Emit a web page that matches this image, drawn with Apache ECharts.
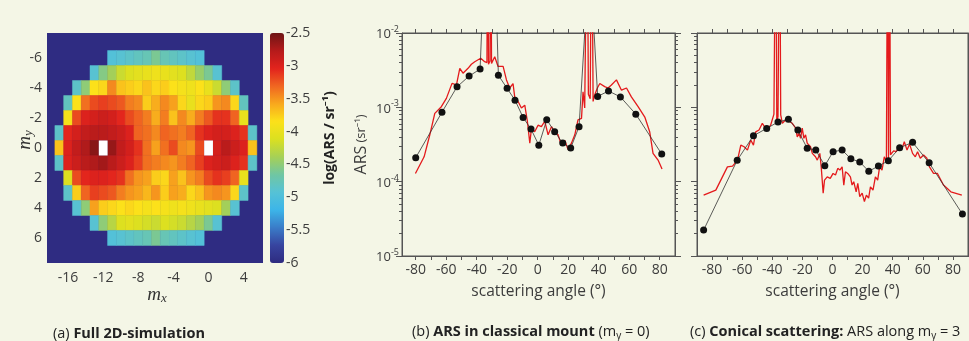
<!DOCTYPE html>
<html>
<head>
<meta charset="utf-8">
<script src="https://cdn.jsdelivr.net/npm/echarts@6/dist/echarts.min.js"></script>
<style>
html, body { margin: 0; padding: 0; background: #f4f6e6; }
#chart { width: 969px; height: 341px; }
</style>
</head>
<body>
<div id="chart"></div>
<script>
// (a) full 2D simulation: one row per m_y, first m_x of the row, log10(ARS) per cell
var myRows = [-6, -5, -4, -3, -2, -1, 0, 1, 2, 3, 4, 5, 6];
var mxStart = [-11, -13, -15, -16, -16, -17, -17, -17, -16, -16, -15, -13, -11];
var logArs = [
    [-4.95, -4.9, -4.85, -4.8, -4.75, -4.6, -4.75, -4.8, -4.85, -4.9, -4.95],
    [-4.9, -4.55, -4.4, -4.2, -4.1, -4.05, -4.0, -3.95, -4.0, -4.05, -4.1, -4.25, -4.45, -4.6, -4.9],
    [-4.85, -4.5, -3.85, -3.8, -3.45, -3.7, -3.75, -3.8, -3.7, -3.8, -3.75, -3.85, -3.9, -3.95, -3.85, -4.0, -4.2, -4.5, -4.85],
    [-4.8, -3.85, -3.35, -3.2, -3.15, -3.2, -3.25, -3.4, -3.45, -3.75, -3.6, -3.45, -3.55, -3.8, -4.0, -3.8, -3.75, -3.5, -3.45, -3.8, -4.8],
    [-3.9, -3.2, -3.0, -2.95, -2.9, -2.95, -3.05, -3.2, -3.3, -3.4, -3.6, -3.4, -3.7, -3.45, -3.6, -3.4, -3.25, -3.1, -3.1, -3.3, -4.0],
    [-4.85, -3.05, -2.95, -2.85, -2.8, -2.8, -2.85, -2.9, -3.0, -3.3, -3.35, -3.45, -3.3, -3.35, -3.4, -3.3, -3.1, -3.0, -2.95, -2.95, -3.0, -3.1, -4.85],
    [-3.7, -3.0, -2.85, -2.75, -2.6, null, -2.65, -2.85, -2.95, -3.1, -3.35, -3.55, -3.35, -3.2, -3.45, -3.5, -3.2, null, -2.95, -2.8, -2.9, -3.0, -3.7],
    [-4.85, -3.0, -2.9, -2.8, -2.75, -2.7, -2.8, -2.9, -3.0, -3.15, -3.35, -3.4, -3.45, -3.5, -3.4, -3.3, -3.15, -3.0, -2.95, -2.9, -3.0, -3.1, -4.85],
    [-4.1, -3.2, -3.05, -3.0, -3.0, -3.05, -3.1, -3.35, -3.5, -3.55, -3.75, -3.8, -3.55, -3.7, -3.5, -3.4, -3.2, -3.1, -3.15, -3.3, -4.0],
    [-4.85, -3.75, -3.3, -3.15, -3.2, -3.25, -3.4, -3.5, -3.55, -3.65, -3.5, -3.75, -3.55, -3.6, -3.8, -3.7, -3.5, -3.45, -3.5, -3.8, -4.85],
    [-4.9, -4.5, -3.55, -3.75, -3.8, -3.85, -3.8, -3.85, -3.9, -3.85, -3.9, -3.95, -3.9, -3.95, -4.0, -4.05, -4.1, -4.4, -4.9],
    [-4.9, -4.5, -4.3, -4.1, -4.05, -4.1, -4.15, -4.2, -4.1, -4.15, -4.2, -4.3, -4.4, -4.6, -4.9],
    [-4.95, -4.9, -4.85, -4.8, -4.75, -4.6, -4.75, -4.8, -4.85, -4.9, -4.95]
];
// specular orders left white in the map
var whiteCells = [[-12, 0], [0, 0]];
var mxLabels = [-16, -12, -8, -4, 0, 4];
var myLabels = [-6, -4, -2, 0, 2, 4, 6];

// (b) classical mount, m_y = 0
var bDotAngle = [-80, -62.8, -52.9, -45.0, -37.8, -31, -25.8, -20.1, -14.9, -9.6, -4.4, 0.7, 5.9, 11.1, 16.4, 21.6, 27.1, 34.0, 39.3, 46.4, 54.2, 64.3, 81.3];
var bDotArs = [2.1e-4, 8.6e-4, 1.89e-3, 2.63e-3, 3.27e-3, 10, 2.7e-3, 1.8e-3, 1.25e-3, 7.3e-4, 5.1e-4, 3.1e-4, 6.8e-4, 4.7e-4, 3.3e-4, 2.83e-4, 5.5e-4, 0.12, 1.4e-3, 1.66e-3, 1.38e-3, 8.1e-4, 2.35e-4];
var bLineAngle = [-80.2, -74.5, -70.8, -67.5, -63.2, -59.9, -56.2, -53.3, -51.1, -49, -45.7, -43.5, -41.3, -37.4, -34.8,
    -33.3, -32.8, -32.3, -31.3, -30.8, -30.3, -29.3, -28.2, -26, -22.7, -20.5, -18.4, -16.2, -15.1, -12.9, -10.7, -8.5,
    -6.8, -5.2, -4.1, -2, 0.2, 2.4, 4.6, 6.8, 9, 11.1, 13.3, 15.5, 17.7, 19.9, 22.1, 24.3, 26.4, 28.7, 29.7, 30.8,
    32.4, 33.2, 34.4, 35.4, 36.3, 37.4, 39.1, 40.7, 43.9, 46.1, 48.3, 51.6, 54.9, 58.2, 61.4, 65.8, 70.2, 73.4, 75.6, 78.9, 81.5];
var bLineArs = [1.29e-4, 2.16e-4, 4.24e-4, 8.3e-4, 1.02e-3, 1.32e-3, 2.1e-3, 2.0e-3, 3.35e-3, 2.88e-3, 3.35e-3, 3.8e-3, 4.11e-3, 4.57e-3, 4.11e-3,
    4.0e-3, 1, 3.8e-3, 4.2e-3, 1, 3.9e-3, 4.11e-3, 4.79e-3, 3.55e-3, 3.55e-3, 2.34e-3, 1.82e-3, 2.09e-3, 1.38e-3, 1.2e-3, 9.8e-4, 1.07e-3,
    6.5e-4, 3.3e-4, 5.2e-4, 4.7e-4, 5.75e-4, 5.5e-4, 6.5e-4, 4.27e-4, 5.5e-4, 4.7e-4, 4.27e-4, 3.1e-4, 3.6e-4, 2.7e-4, 3.3e-4, 4.27e-4, 6.8e-4, 7.1e-4, 1.62e-3, 9.8e-4,
    1, 1.5e-3, 1.3e-3, 1, 1.2e-3, 1.48e-3, 1.82e-3, 2.09e-3, 1.9e-3, 1.82e-3, 2.0e-3, 2.34e-3, 1.7e-3, 1.82e-3, 1.38e-3, 1.02e-3, 7.4e-4, 4.7e-4, 2.4e-4, 1.95e-4, 1.48e-4];

// (c) conical scattering, m_y = 3
var cDotAngle = [-85.6, -63.3, -52.5, -43.7, -36.2, -29.3, -23, -16.8, -11.1, -5.1, 0.4, 6.4, 12.2, 18.1, 24.1, 30.5, 37.1, 44.6, 53.2, 64.2, 86.3];
var cDotArs = [2.23e-5, 1.94e-4, 4.15e-4, 5.21e-4, 6.34e-4, 6.89e-4, 4.94e-4, 2.81e-4, 2.66e-4, 1.64e-4, 2.53e-4, 2.66e-4, 2.03e-4, 1.84e-4, 1.38e-4, 1.62e-4, 1.91e-4, 2.86e-4, 3.38e-4, 1.79e-4, 3.66e-5];
var cLineAngle = [-85.6, -77.5, -69.8, -66.4, -63.1, -60.9, -58.7, -56.5, -54.3, -52.5, -51, -48.8, -46.6, -43.7, -41.1, -38.9,
    -37.7, -37.0, -36.2, -35.1, -34.4, -33.3, -31.1, -28.9, -26.7, -24.5, -23.4, -22.3, -21.2, -20.1, -19, -17.9, -16.8, -14.6,
    -13.4, -11.3, -10.1, -8.4, -7.5, -6.2, -5.3, -3.5, -1.5, 0.4, 2, 3.5, 4.9, 6.4, 7.5, 8.6, 10.1, 11.9, 13, 14.1, 15.7, 16.8,
    18.1, 19.7, 21.2, 22.5, 24, 25.2, 26.9, 28.5, 30, 31.3, 32.9, 34.4, 35.8, 36.6, 37.2, 37.9, 38.5, 39.1, 40.6, 42.4, 43.9,
    46.2, 47.7, 49.5, 51.2, 53.2, 55, 56.5, 58.3, 60.5, 62.7, 64.4, 67.1, 69.7, 73.7, 78.6, 85.9];
var cLineArs = [6.6e-5, 7.7e-5, 1.58e-4, 1.62e-4, 1.95e-4, 3.1e-4, 2.95e-4, 2.66e-4, 3.63e-4, 3.1e-4, 4.68e-4, 4.95e-4, 6.1e-4, 4.95e-4, 5.75e-4, 8.1e-4,
    1, 6.5e-4, 7.5e-4, 1, 7.9e-4, 6.1e-4, 6.8e-4, 6.5e-4, 6.1e-4, 5.25e-4, 4.0e-4, 4.47e-4, 3.83e-4, 5.25e-4, 3.83e-4, 4.27e-4, 3.3e-4, 2.95e-4,
    2.4e-4, 2.16e-4, 1.95e-4, 2.4e-4, 1.58e-4, 7.0e-5, 1.05e-4, 1.16e-4, 1.11e-4, 1.29e-4, 1.23e-4, 1.51e-4, 1.43e-4, 1.58e-4, 9.0e-5, 1.36e-4, 1.29e-4, 1.16e-4, 9.0e-5, 1.0e-4, 7.3e-5, 9.5e-5,
    6.3e-5, 7.0e-5, 5.4e-5, 6.6e-5, 6.0e-5, 8.5e-5, 7.7e-5, 1.16e-4, 1.05e-4, 1.58e-4, 1.43e-4, 2.16e-4, 1.85e-4, 1, 2.0e-4, 1, 2.3e-4, 2.4e-4, 2.6e-4, 2.53e-4, 2.95e-4,
    2.8e-4, 3.44e-4, 2.66e-4, 3.2e-4, 2.4e-4, 2.16e-4, 2.53e-4, 2.06e-4, 2.28e-4, 2.06e-4, 1.58e-4, 1.29e-4, 1.29e-4, 9.0e-5, 7.3e-5, 6.6e-5];

var degTicks = [-80, -70, -60, -50, -40, -30, -20, -10, 0, 10, 20, 30, 40, 50, 60, 70, 80];
var degLabels = [-80, -60, -40, -20, 0, 20, 40, 60, 80];

var fontName = '"Open Sans", "Noto Sans", sans-serif';
var ink = '#3c3c3c';
var frame = '#555';

// minor log ticks (2..9 per decade), in log10 units
var minorLog = [];
for (var d = -5; d < -2; d++) {
    for (var k = 2; k < 10; k++) minorLog.push(d + Math.log10(k));
}

var heatData = [];
myRows.forEach(function (my, r) {
    logArs[r].forEach(function (v, i) {
        if (v !== null) heatData.push([mxStart[r] + i, my, v]);
    });
});

function pairs(xs, ys) {
    return xs.map(function (x, i) { return [x, ys[i]]; });
}

function cellRect(api) {
    var a = api.coord([api.value(0) - 0.5, api.value(1) - 0.5]);
    var b = api.coord([api.value(0) + 0.5, api.value(1) + 0.5]);
    return {
        x: Math.min(a[0], b[0]), y: Math.min(a[1], b[1]),
        width: Math.abs(b[0] - a[0]), height: Math.abs(b[1] - a[1])
    };
}

function tickStyle(len) {
    return { show: true, length: len, lineStyle: { color: frame, width: 1 } };
}

// bottom + mirrored top axis of a line panel
function frameX(gi, min, max) {
    return [{
        gridIndex: gi, type: 'value', min: min, max: max,
        axisLine: { show: true, onZero: false, lineStyle: { color: frame } },
        axisTick: Object.assign(tickStyle(4), { customValues: degTicks }),
        axisLabel: { customValues: degLabels, color: ink, fontSize: 14, fontFamily: fontName, margin: 7 },
        splitLine: { show: false },
        name: 'scattering angle (°)', nameLocation: 'middle', nameGap: 28,
        nameTextStyle: { color: ink, fontSize: 15.5, fontFamily: fontName }
    }, {
        gridIndex: gi, type: 'value', min: min, max: max, position: 'top',
        axisLine: { show: true, onZero: false, lineStyle: { color: frame } },
        axisTick: Object.assign(tickStyle(4), { customValues: degTicks }),
        axisLabel: { show: false }, splitLine: { show: false }
    }];
}

// log axis left + right, each with a minor tick companion
function frameY(gi, withLabels) {
    var axes = [];
    ['left', 'right'].forEach(function (pos) {
        var main = {
            gridIndex: gi, type: 'log', logBase: 10, min: 1e-5, max: 1e-2, position: pos,
            axisLine: { show: true, onZero: false, lineStyle: { color: frame } },
            axisTick: tickStyle(6),
            axisLabel: { show: false },
            splitLine: { show: false }
        };
        if (withLabels && pos === 'left') {
            main.axisLabel = {
                show: true, margin: 3,
                formatter: function (v) { return '{b|10}{s|' + Math.round(Math.log10(v)) + '}'; },
                rich: {
                    b: { fontSize: 13, color: ink, fontFamily: fontName, lineHeight: 16, verticalAlign: 'bottom' },
                    s: { fontSize: 9, color: ink, fontFamily: fontName, lineHeight: 8, verticalAlign: 'top' }
                }
            };
            main.name = '{a|ARS} {c|(sr⁻¹)}';
            main.nameLocation = 'middle';
            main.nameGap = 33;
            main.nameTextStyle = {
                rich: {
                    a: { fontSize: 16, color: ink, fontFamily: fontName },
                    c: { fontSize: 13, color: ink, fontFamily: fontName }
                }
            };
        }
        axes.push(main);
        axes.push({
            gridIndex: gi, type: 'value', min: -5, max: -2, position: pos,
            axisLine: { show: false, onZero: false },
            axisTick: Object.assign(tickStyle(3), { customValues: minorLog }),
            axisLabel: { show: false }, splitLine: { show: false }
        });
    });
    return axes;
}

function bigDot(v) { return v[1] > 1e-2 ? 0 : 7; }

var capRich = {
    n: { fontFamily: fontName, fontSize: 14.5, fill: '#222', lineHeight: 18 },
    b: { fontFamily: fontName, fontSize: 14.5, fontWeight: 'bold', fill: '#222', lineHeight: 18 },
    sub: { fontFamily: fontName, fontSize: 10, fill: '#222', lineHeight: 9, verticalAlign: 'bottom' }
};
var mathRich = {
    m: { fontFamily: '"Liberation Serif", serif', fontStyle: 'italic', fontSize: 19, lineHeight: 20, fill: '#333' },
    s: { fontFamily: '"Liberation Serif", serif', fontStyle: 'italic', fontSize: 13, lineHeight: 10, verticalAlign: 'bottom', fill: '#333' }
};

var chart = echarts.init(document.getElementById('chart'));

var option = {
    animation: false,
    backgroundColor: '#f4f6e6',
    textStyle: { fontFamily: fontName },
    grid: [
        { left: 47, top: 33, width: 216, height: 230, show: true, backgroundColor: '#2f2c82', borderWidth: 0, outerBoundsMode: 'none' },
        { left: 270, top: 33, width: 14, height: 230, show: false, outerBoundsMode: 'none' },
        { left: 402, top: 33, width: 273, height: 223, show: true, backgroundColor: 'transparent', borderColor: frame, borderWidth: 1, outerBoundsMode: 'none' },
        { left: 697, top: 33, width: 271, height: 223, show: true, backgroundColor: 'transparent', borderColor: frame, borderWidth: 1, outerBoundsMode: 'none' }
    ],
    xAxis: [
        {
            gridIndex: 0, type: 'value', min: -18.4, max: 6.2,
            axisLine: { show: false }, axisTick: { show: false }, splitLine: { show: false },
            axisLabel: { customValues: mxLabels, color: ink, fontSize: 14, fontFamily: fontName, margin: 8 }
        },
        { gridIndex: 1, type: 'value', show: false }
    ].concat(frameX(2, -89, 90), frameX(3, -90, 90)),
    yAxis: [
        {
            gridIndex: 0, type: 'value', min: -7.67, max: 7.67, inverse: true,
            axisLine: { show: false }, axisTick: { show: false }, splitLine: { show: false },
            axisLabel: { customValues: myLabels, color: ink, fontSize: 14, fontFamily: fontName, margin: 5 }
        },
        {
            gridIndex: 1, type: 'value', min: -6, max: -2.5, interval: 0.5, position: 'right',
            axisLine: { show: false }, axisTick: { show: false }, splitLine: { show: false },
            axisLabel: { color: ink, fontSize: 14, fontFamily: fontName, margin: 2 }
        }
    ].concat(frameY(2, true), frameY(3, false)),
    visualMap: {
        type: 'continuous', seriesIndex: 0, dimension: 2, min: -6, max: -2.5,
        left: 270, top: 33, itemWidth: 14, itemHeight: 230, padding: 0,
        calculable: false, hoverLink: false, showLabel: false,
        inRange: {
            color: ['#2e2b80', '#37449f', '#3a7cc8', '#3cb5e8', '#56c2d6', '#70c6a2', '#a6d056',
                '#dbe020', '#fce11a', '#f8a81d', '#f06621', '#e2231d', '#b51b1b', '#6e1515']
        }
    },
    series: [
        {
            type: 'custom', xAxisIndex: 0, yAxisIndex: 0, data: heatData, silent: true,
            renderItem: function (params, api) {
                var c = api.visual('color');
                return { type: 'rect', shape: cellRect(api), style: { fill: c, stroke: c, lineWidth: 0.5 } };
            }
        },
        {
            type: 'custom', xAxisIndex: 0, yAxisIndex: 0, data: whiteCells, silent: true,
            renderItem: function (params, api) {
                return { type: 'rect', shape: cellRect(api), style: { fill: '#ffffff' } };
            }
        },
        {
            type: 'line', xAxisIndex: 2, yAxisIndex: 2, data: pairs(bLineAngle, bLineArs),
            showSymbol: false, lineStyle: { color: '#e41a1c', width: 1.3 }, itemStyle: { color: '#e41a1c' }
        },
        {
            type: 'line', xAxisIndex: 2, yAxisIndex: 2, data: pairs(bDotAngle, bDotArs),
            symbol: 'circle', symbolSize: bigDot,
            lineStyle: { color: '#333', width: 0.8 }, itemStyle: { color: '#111' }
        },
        {
            type: 'line', xAxisIndex: 4, yAxisIndex: 6, data: pairs(cLineAngle, cLineArs),
            showSymbol: false, lineStyle: { color: '#e41a1c', width: 1.3 }, itemStyle: { color: '#e41a1c' }
        },
        {
            type: 'line', xAxisIndex: 4, yAxisIndex: 6, data: pairs(cDotAngle, cDotArs),
            symbol: 'circle', symbolSize: bigDot,
            lineStyle: { color: '#333', width: 0.8 }, itemStyle: { color: '#111' }
        }
    ],
    graphic: [
        {
            type: 'text', x: 157, y: 295,
            style: { text: '{m|m}{s|x}', align: 'center', verticalAlign: 'middle', textAlign: 'center', textVerticalAlign: 'middle', rich: mathRich }
        },
        {
            type: 'text', x: 25, y: 140, rotation: Math.PI / 2,
            style: { text: '{m|m}{s|y}', align: 'center', verticalAlign: 'middle', textAlign: 'center', textVerticalAlign: 'middle', rich: mathRich }
        },
        {
            type: 'text', x: 330, y: 138, rotation: Math.PI / 2,
            style: {
                text: 'log(ARS / sr⁻¹)', align: 'center', verticalAlign: 'middle', textAlign: 'center', textVerticalAlign: 'middle',
                fontFamily: fontName, fontWeight: 'bold', fontSize: 14, fill: '#222'
            }
        },
        {
            type: 'text', x: 53, y: 334,
            style: { text: '{n|(a) }{b|Full 2D-simulation}', verticalAlign: 'middle', textVerticalAlign: 'middle', rich: capRich }
        },
        {
            type: 'text', x: 412, y: 332,
            style: { text: '{n|(b) }{b|ARS in classical mount}{n| (m}{sub|y}{n| = 0)}', verticalAlign: 'middle', textVerticalAlign: 'middle', rich: capRich }
        },
        {
            type: 'text', x: 690, y: 332,
            style: { text: '{n|(c) }{b|Conical scattering:}{n| ARS along m}{sub|y}{n| = 3}', verticalAlign: 'middle', textVerticalAlign: 'middle', rich: capRich }
        }
    ]
};

chart.setOption(option);

window.onresize = function () {
    chart.resize();
};
</script>
</body>
</html>
